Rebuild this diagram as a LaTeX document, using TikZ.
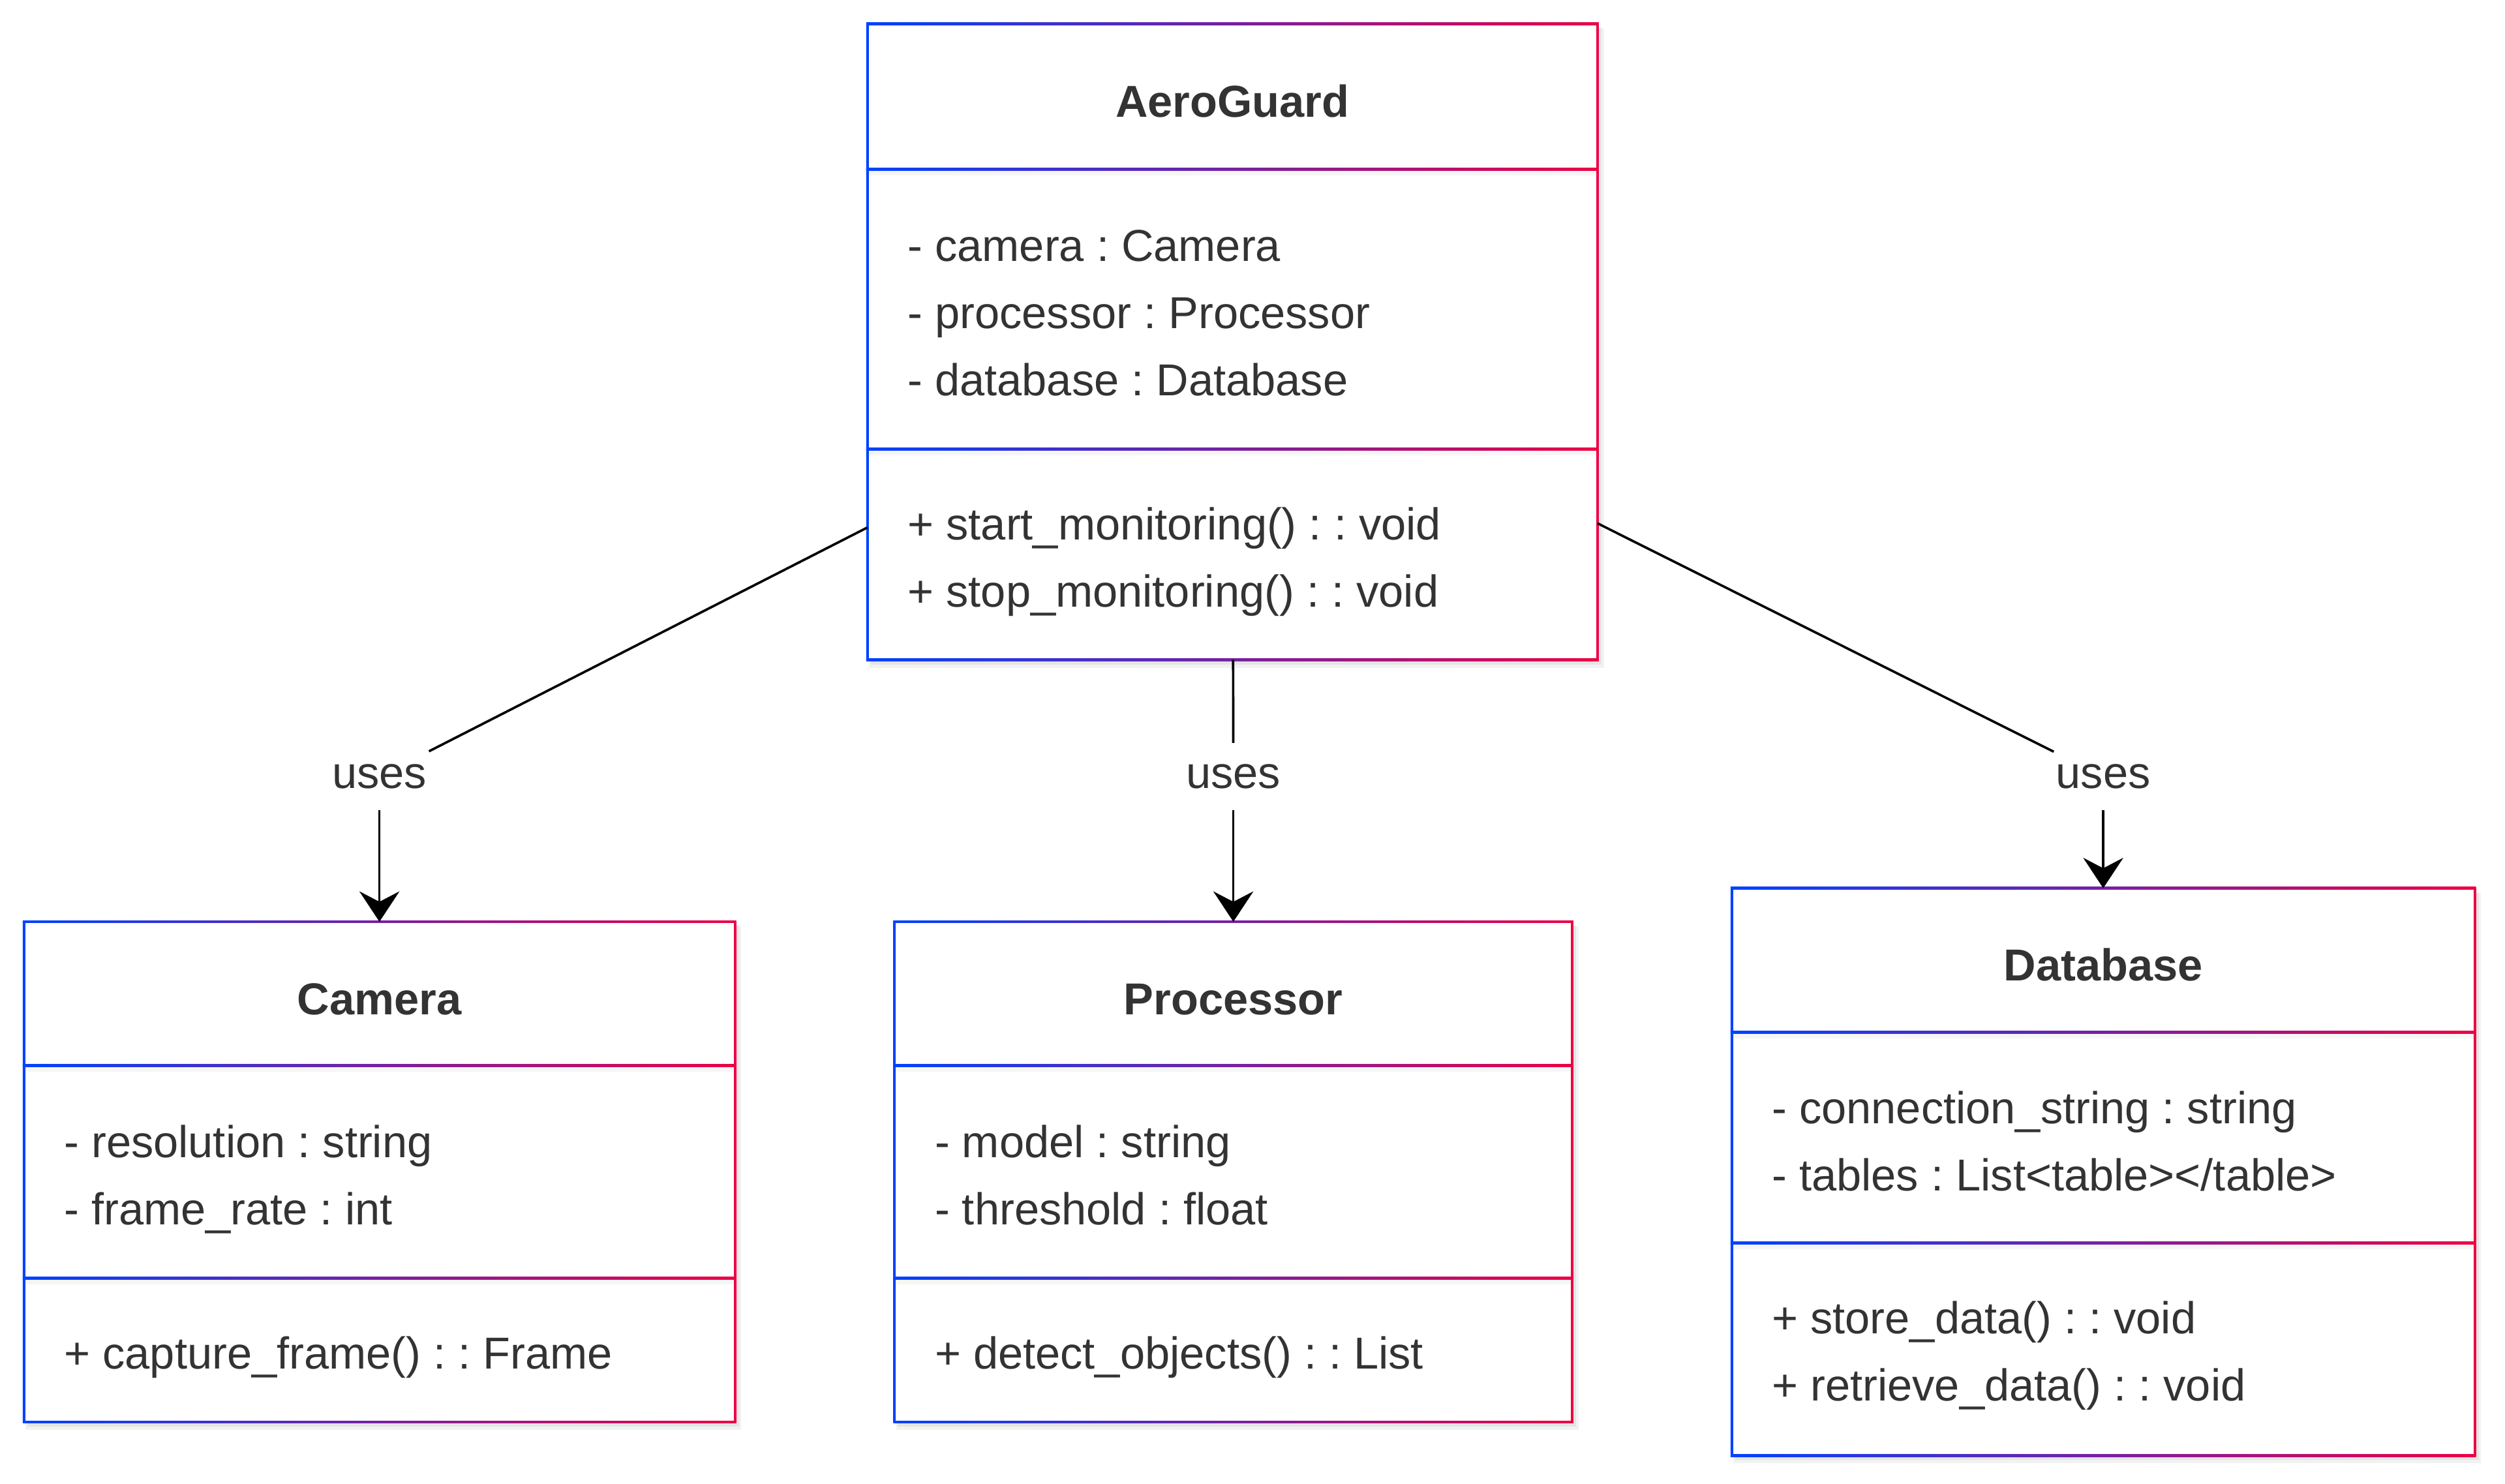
\documentclass[tikz,border=0pt]{standalone}
\usepackage{fontspec}
\setmainfont{Liberation Sans}
\usetikzlibrary{arrows.meta}
\definecolor{gblue}{RGB}{0,66,255}
\definecolor{gred}{RGB}{238,0,68}
\definecolor{txt}{RGB}{51,51,51}
\frenchspacing
\tikzset{
  umltitle/.style={anchor=base, inner sep=0pt, text=txt, font=\fontsize{28}{34}\selectfont\bfseries},
  umlitem/.style={anchor=base west, inner sep=0pt, text=txt, font=\fontsize{28}{34}\selectfont},
  uselabel/.style={shape=rectangle, inner sep=0pt, outer sep=0pt, minimum width=62pt, minimum height=42pt, text=txt, font=\fontsize{28}{34}\selectfont},
  link/.style={draw=black, line width=1.5pt},
  dep/.style={link, -{Stealth[length=19pt,width=25pt,inset=6.5pt]}},
  boxnode/.style={shape=rectangle, inner sep=0pt, outer sep=0pt},
  gradline/.style={left color=gblue, right color=gred},
}
\newcommand{\umlframe}[6]{%
  \fill[black,opacity=0.05] (#1+1,#2+3) rectangle (#3+4,#4+5);
  \fill[black,opacity=0.05] (#1+2,#2+2) rectangle (#3+2.5,#4+3);
  \shade[gradline] (#1-0.8,#2-0.8) rectangle (#3+0.8,#4+0.8);
  \fill[white] (#1+0.8,#2+0.8) rectangle (#3-0.8,#4-0.8);
  \fill[black,opacity=0.035] (#1+0.8,#5+0.8) rectangle (#3-0.8,#5+4);
  \fill[black,opacity=0.035] (#1+0.8,#6+0.8) rectangle (#3-0.8,#6+4);
  \shade[gradline] (#1-0.8,#5-0.8) rectangle (#3+0.8,#5+0.8);
  \shade[gradline] (#1-0.8,#6-0.8) rectangle (#3+0.8,#6+0.8);
}
\begin{document}
\begin{tikzpicture}[x=1pt,y=-1pt]
\useasboundingbox[fill=white] (0,0) rectangle (1568,928.55);

% AeroGuard
\umlframe{543}{15}{1000}{413}{106}{281}
\node[boxnode, minimum width=457pt, minimum height=398pt] (aero) at (771.5,214) {};
\node[umltitle] (aerot) at (771.5,73.3) {AeroGuard};
\node[umlitem] (aeroa1) at (568,163.5) {- camera : Camera};
\node[umlitem] (aeroa2) at (568,205.5) {- processor : Processor};
\node[umlitem] (aeroa3) at (568,247.5) {- database : Database};
\node[umlitem] (aerom1) at (568,338) {+ start\_monitoring() : : void};
\node[umlitem] (aerom2) at (568,380) {+ stop\_monitoring() : : void};

% Camera
\umlframe{15}{577}{460}{890}{667}{800}
\node[boxnode, minimum width=445pt, minimum height=313pt] (camera) at (237.5,733.5) {};
\node[umltitle] (camt) at (237.5,635) {Camera};
\node[umlitem] (cama1) at (40,724.5) {- resolution : string};
\node[umlitem] (cama2) at (40,766.5) {- frame\_rate : int};
\node[umlitem] (camm1) at (40,857) {+ capture\_frame() : : Frame};

% Processor
\umlframe{560}{577}{984}{890}{667}{800}
\node[boxnode, minimum width=424pt, minimum height=313pt] (proc) at (772,733.5) {};
\node[umltitle] (proct) at (772,635) {Processor};
\node[umlitem] (proca1) at (585,724.5) {- model : string};
\node[umlitem] (proca2) at (585,766.5) {- threshold : float};
\node[umlitem] (procm1) at (585,857) {+ detect\_objects() : : List};

% Database
\umlframe{1084}{556}{1549}{911}{646}{778}
\node[boxnode, minimum width=465pt, minimum height=355pt] (db) at (1316.5,733.5) {};
\node[umltitle] (dbt) at (1316.5,614) {Database};
\node[umlitem] (dba1) at (1109,703.5) {- connection\_string : string};
\node[umlitem] (dba2) at (1109,745.5) {- tables : List<table></table>};
\node[umlitem] (dbm1) at (1109,835) {+ store\_data() : : void};
\node[umlitem] (dbm2) at (1109,877) {+ retrieve\_data() : : void};

% labels and connectors
\node[uselabel] (l1) at (237.5,486) {uses};
\node[uselabel] (l2) at (772,486) {uses};
\node[uselabel] (l3) at (1316.5,486) {uses};

\draw[link] (aero) -- (l1);
\draw[dep] (l1) -- (camera);
\draw[link] (aero) -- (l2);
\draw[dep] (l2) -- (proc);
\draw[link] (aero) -- (l3);
\draw[dep] (l3) -- (db);
\end{tikzpicture}
\end{document}
